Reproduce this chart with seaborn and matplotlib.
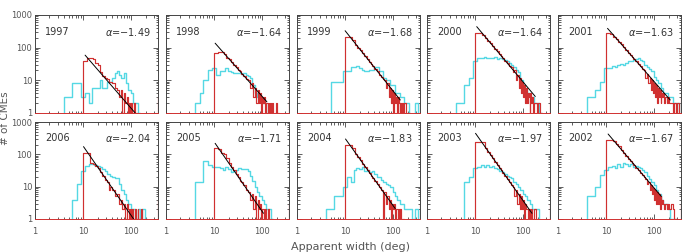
import numpy as np
import pandas as pd
import matplotlib
matplotlib.use('Agg')
import matplotlib.pyplot as plt
import seaborn as sns

sns.set_style('ticks')
plt.rcParams['font.family'] = ['DejaVu Sans']

years = [1997, 1998, 1999, 2000, 2001, 2006, 2005, 2004, 2003, 2002]
alphas = [-1.49, -1.64, -1.68, -1.64, -1.63, -2.04, -1.71, -1.83, -1.97, -1.67]

# bin edges in degrees (first bin is the empty one below the start)
red_edges = [1, 10, 12, 14, 16, 18, 20, 22, 25, 28, 31, 34, 37, 40, 45, 50, 55, 60,
             65, 70, 75, 80, 85, 90, 95, 100, 105, 110, 115, 120, 125, 130, 135, 140,
             145, 150, 160, 170, 180, 190, 200, 220, 240, 260, 280, 300, 330, 355, 360]
cyan_edges = [1, 4, 5, 6, 7.5, 9, 11, 13, 15, 17, 19, 22, 25, 28, 32, 36, 40, 45, 50,
              56, 62, 70, 78, 87, 97, 108, 120, 135, 150, 170, 190, 215, 245, 280,
              320, 355, 360]

# red histograms (counts)
red_1997 = [0, 40, 50, 48, 45, 34, 30, 18, 14, 12, 11, 9, 9,
            8, 6, 5, 3, 5, 1, 4, 2, 3, 1, 2, 1,
            2, 1, 1, 2, 0, 1, 1, 0, 0, 0, 0, 0,
            0, 0, 0, 0, 0, 0, 0, 0, 0, 0, 3]
red_1998 = [0, 68, 76, 76, 62, 50, 44, 36, 30, 26, 21, 19, 16,
            14, 11, 10, 6, 8, 3, 6, 2, 5, 2, 4, 1,
            3, 2, 3, 1, 2, 2, 1, 2, 0, 2, 1, 2,
            0, 1, 2, 1, 0, 0, 0, 0, 0, 0, 3]
red_1999 = [0, 219, 210, 170, 124, 100, 84, 68, 54, 45, 37, 32, 27,
            23, 19, 15, 13, 11, 10, 6, 8, 3, 6, 2, 5,
            1, 4, 2, 3, 1, 3, 2, 1, 2, 0, 2, 1,
            2, 1, 0, 1, 0, 0, 0, 0, 0, 0, 2]
red_2000 = [0, 277, 277, 245, 199, 160, 140, 112, 92, 78, 62, 56, 47,
            40, 33, 27, 25, 18, 20, 10, 15, 6, 12, 4, 9,
            3, 7, 2, 6, 2, 4, 3, 1, 4, 2, 3, 1,
            2, 2, 1, 2, 1, 0, 0, 0, 0, 0, 3]
red_2001 = [0, 277, 270, 218, 179, 148, 126, 104, 85, 71, 60, 52, 45,
            38, 32, 27, 23, 20, 12, 16, 8, 12, 5, 10, 4,
            8, 3, 7, 2, 6, 3, 5, 2, 4, 3, 4, 2,
            3, 2, 3, 2, 2, 1, 2, 1, 2, 0, 3]
red_2006 = [0, 113, 113, 55, 52, 45, 37, 29, 22, 16, 14, 8, 10,
            8, 5, 6, 3, 4, 2, 3, 1, 3, 2, 1, 2,
            1, 2, 1, 1, 2, 1, 0, 2, 0, 1, 0, 2,
            0, 1, 0, 0, 0, 0, 0, 0, 0, 0, 4]
red_2005 = [0, 153, 145, 110, 100, 75, 55, 42, 32, 24, 20, 15, 14,
            11, 8, 7, 4, 6, 2, 5, 1, 4, 2, 3, 1,
            2, 2, 1, 2, 1, 1, 2, 0, 1, 0, 1, 0,
            0, 0, 0, 0, 0, 0, 0, 0, 0, 0, 3]
red_2004 = [0, 194, 194, 153, 103, 81, 66, 52, 41, 33, 27, 22, 19,
            15, 12, 10, 8, 1, 7, 3, 5, 2, 4, 1, 3,
            2, 3, 1, 2, 2, 1, 2, 1, 2, 0, 1, 1,
            0, 0, 0, 0, 0, 0, 0, 0, 0, 0, 3]
red_2003 = [0, 246, 246, 240, 152, 120, 97, 77, 59, 47, 39, 32, 27,
            22, 17, 14, 11, 10, 5, 8, 3, 6, 2, 5, 2,
            4, 1, 3, 2, 2, 1, 2, 2, 1, 2, 1, 1,
            2, 0, 1, 0, 0, 0, 0, 0, 0, 0, 3]
red_2002 = [0, 277, 277, 250, 215, 175, 140, 111, 90, 74, 63, 54, 47,
            39, 32, 27, 23, 20, 17, 12, 14, 8, 11, 6, 9,
            4, 8, 3, 7, 3, 6, 2, 5, 3, 4, 3, 2,
            3, 2, 3, 2, 3, 2, 1, 1, 0, 0, 3]

# cyan histograms
cyan_1997 = [0, 3, 3, 8, 8, 3, 4, 2, 6, 6, 6, 10, 6, 6, 9, 9, 12, 17,
             19, 15, 12, 17, 8, 5, 4, 2, 2, 1, 0, 0, 0, 0, 0, 0, 0, 0]
cyan_1998 = [0, 2, 4, 10, 21, 24, 15, 19, 19, 24, 19, 18, 17, 17, 17, 16, 17, 15,
             14, 12, 7, 4, 3, 3, 2, 2, 1, 0, 0, 0, 0, 0, 0, 0, 0, 0]
cyan_1999 = [0, 0, 9, 9, 9, 19, 19, 26, 26, 28, 24, 21, 19, 19, 21, 21, 26, 26,
             19, 19, 12, 10, 10, 7, 7, 4, 4, 3, 3, 2, 2, 0, 0, 2, 0, 0]
cyan_2000 = [0, 2, 2, 7, 12, 40, 48, 50, 52, 48, 50, 47, 52, 45, 48, 46, 42, 40,
             35, 30, 26, 21, 18, 10, 7, 5, 4, 3, 3, 2, 2, 1, 0, 0, 0, 0]
cyan_2001 = [0, 3, 3, 5, 9, 24, 24, 28, 26, 30, 32, 30, 35, 38, 40, 42, 45, 48,
             42, 38, 30, 26, 22, 19, 13, 10, 8, 6, 4, 4, 3, 3, 2, 2, 0, 0]
cyan_2006 = [0, 0, 0, 4, 12, 30, 45, 50, 52, 48, 45, 40, 35, 30, 25, 22, 20, 18,
             18, 12, 8, 6, 4, 3, 2, 2, 1, 2, 1, 2, 1, 0, 0, 0, 0, 0]
cyan_2005 = [0, 14, 14, 62, 46, 41, 41, 38, 33, 41, 36, 29, 30, 33, 37, 35, 34, 36,
             30, 22, 15, 10, 7, 5, 4, 3, 2, 2, 1, 0, 0, 0, 0, 0, 0, 0]
cyan_2004 = [0, 2, 2, 5, 5, 10, 20, 14, 33, 38, 35, 40, 30, 33, 28, 30, 25, 20,
             20, 16, 14, 12, 11, 10, 7, 5, 4, 3, 3, 2, 2, 2, 1, 2, 0, 0]
cyan_2003 = [0, 0, 0, 14, 20, 37, 41, 46, 42, 46, 40, 44, 38, 36, 30, 28, 25, 22,
             20, 18, 14, 12, 10, 8, 6, 5, 4, 3, 2, 2, 2, 0, 0, 0, 0, 0]
cyan_2002 = [0, 5, 5, 10, 23, 33, 40, 45, 38, 50, 42, 55, 50, 45, 50, 42, 45, 40,
             38, 32, 28, 22, 17, 14, 11, 8, 6, 4, 3, 3, 2, 1, 1, 0, 0, 0]

# power-law fit segments (start / end in data units)
fit_x0 = [11, 10.5, 10, 10.8, 10.7, 10.2, 10.5, 10.2, 10.2, 11]
fit_y0 = [59, 137, 330, 440, 390, 173, 219, 298, 446, 425]
fit_x1 = [121, 125, 140, 178, 215, 112, 106, 110, 152, 140]
fit_y1 = [1, 2.2, 2.5, 3.2, 2.5, 1, 1.5, 2.1, 1.5, 5]

reds = [red_1997, red_1998, red_1999, red_2000, red_2001,
        red_2006, red_2005, red_2004, red_2003, red_2002]
cyans = [cyan_1997, cyan_1998, cyan_1999, cyan_2000, cyan_2001,
         cyan_2006, cyan_2005, cyan_2004, cyan_2003, cyan_2002]

RED = '#d03030'
CYAN = '#55d8e4'
TXT = '#333333'

re_ = np.array(red_edges, dtype=float)
ce_ = np.array(cyan_edges, dtype=float)
red_mid = np.sqrt(re_[:-1] * re_[1:])
cyan_mid = np.sqrt(ce_[:-1] * ce_[1:])
red_bins = list(np.log10(re_))
cyan_bins = list(np.log10(ce_))

fig = plt.figure(figsize=(6.85, 2.52), dpi=100)
W, H = 685.0, 252.0
lefts = [35, 166, 297, 427, 558]

for i, year in enumerate(years):
    row, col = divmod(i, 5)
    if row == 0:
        rect = [lefts[col] / W, 1 - 113 / H, 123 / W, 98 / H]
    else:
        rect = [lefts[col] / W, 1 - 219 / H, 123 / W, 97 / H]
    ax = fig.add_axes(rect)

    df_c = pd.DataFrame({'width': cyan_mid, 'n': cyans[i]})
    df_r = pd.DataFrame({'width': red_mid, 'n': reds[i]})
    sns.histplot(data=df_c, x='width', weights='n', bins=cyan_bins, log_scale=True,
                 element='step', fill=False, color=CYAN, linewidth=1.0, ax=ax)
    sns.histplot(data=df_r, x='width', weights='n', bins=red_bins, log_scale=True,
                 element='step', fill=False, color=RED, linewidth=0.85, ax=ax)
    ax.plot([fit_x0[i], fit_x1[i]], [fit_y0[i], fit_y1[i]], color='k', lw=0.7)

    ax.set_yscale('log')
    ax.set_xlim(1, 360)
    ax.set_ylim(1, 1000)
    ax.set_xlabel('')
    ax.set_ylabel('')

    ax.set_xticks([1, 10, 100])
    ax.set_yticks([1, 10, 100, 1000])
    ax.set_xticklabels(['1', '10', '100'])
    ax.set_yticklabels(['1', '10', '100', '1000'])
    ax.tick_params(which='both', direction='in', top=True, right=True,
                   width=0.6, color='#444444', labelsize=6, labelcolor='#555555',
                   labelbottom=(row == 1), labelleft=(col == 0))
    ax.tick_params(axis='x', pad=6)
    ax.tick_params(axis='y', pad=2)
    ax.tick_params(which='major', length=3.5)
    ax.tick_params(which='minor', length=1.8)
    for s in ax.spines.values():
        s.set_linewidth(0.7)
        s.set_color('#444444')
    ax.spines['bottom'].set_color(RED)

    ax.text(0.08, 0.83, str(year), transform=ax.transAxes, fontsize=7,
            color=TXT, ha='left', va='center')
    ax.text(0.94, 0.83, r'$\alpha$=$-$%.2f' % abs(alphas[i]), transform=ax.transAxes,
            fontsize=7, color=TXT, ha='right', va='center')

fig.text(0.008, 0.53, '# of CMEs', rotation=90, fontsize=7.5, color='#555555',
         ha='center', va='center')
fig.text(0.512, 0.02, 'Apparent width (deg)', fontsize=8, color='#555555',
         ha='center', va='center')

fig.savefig('out.png', dpi=100)
